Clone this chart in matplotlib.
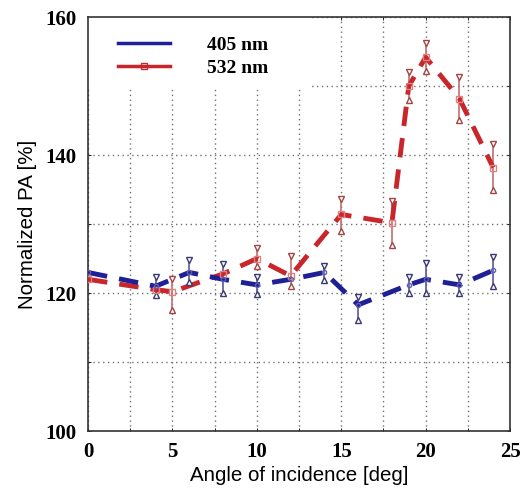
import matplotlib
matplotlib.use("Agg")
import matplotlib.pyplot as plt
from matplotlib.lines import Line2D
from matplotlib.patches import Rectangle
from matplotlib.ticker import MultipleLocator

# ---- data ----
blue_x = [0, 4, 6, 8, 10, 12, 14, 16, 19, 20, 22, 24]
blue_y = [123, 121, 123, 122, 121.2, 122, 123, 118.3, 121.2, 122, 121.2, 123.3]
blue_err_x = [4, 6, 8, 10, 14, 16, 19, 20, 22, 24]
blue_err_lo = [119.8, 121.6, 120.0, 119.9, 121.9, 116.1, 120.0, 120.0, 120.0, 121.0]
blue_err_hi = [122.4, 124.8, 124.2, 122.4, 124.0, 119.5, 122.3, 124.4, 122.3, 125.3]

red_x = [0, 4, 5, 8, 10, 12, 15, 18, 19, 20, 22, 24]
red_y = [122, 120.5, 120.2, 122.8, 125, 122.5, 131.4, 130.2, 150, 154.2, 148.2, 138.2]
red_err_x = [5, 10, 12, 15, 18, 19, 20, 22, 24]
red_err_lo = [117.5, 124.0, 121.0, 129.0, 127.0, 148.0, 152.2, 145.1, 135.0]
red_err_hi = [122.0, 126.5, 125.4, 133.6, 133.3, 152.1, 156.3, 151.3, 141.6]

x_ticks = [0, 5, 10, 15, 20, 25]
y_ticks = [100, 120, 140, 160]
labels = ["405 nm", "532 nm"]

blue = "#1f1f96"
red = "#c8262a"

fig = plt.figure(figsize=(5.21, 4.91), dpi=100)
ax = fig.add_axes([0.169, 0.122, 0.810, 0.843])

# error bars
for xs, lo, hi, lc, mc in [(blue_err_x, blue_err_lo, blue_err_hi, "#5a5a9a", "#3a3a70"),
                           (red_err_x, red_err_lo, red_err_hi, "#c07070", "#a04545")]:
    ax.vlines(xs, lo, hi, colors=lc, lw=1.2, zorder=3)
    ax.plot(xs, hi, ls="none", marker="v", ms=5, mfc="white", mec=mc, mew=1, zorder=4)
    ax.plot(xs, lo, ls="none", marker="^", ms=5, mfc="white", mec=mc, mew=1, zorder=4)

ax.plot(red_x, red_y, color=red, lw=3.5, ls=(0, (4, 2.5)), zorder=3)
ax.plot(blue_x, blue_y, color=blue, lw=3.5, ls=(0, (4, 2.5)), zorder=3)
ax.plot(red_x, red_y, ls="none", marker="s", ms=4, mfc="none", mec="#e08080", mew=1, zorder=4)
ax.plot(blue_x, blue_y, ls="none", marker="o", ms=3, mfc="none", mec="#6060b0", mew=1, zorder=4)

ax.set_xlim(0, 25)
ax.set_ylim(100, 160)
ax.set_xticks(x_ticks)
ax.set_yticks(y_ticks)
ax.xaxis.set_minor_locator(MultipleLocator(2.5))
ax.yaxis.set_minor_locator(MultipleLocator(10))
ax.grid(True, which="both", color="#707070", ls=(0, (1, 2.5)), lw=1.0, zorder=1)
ax.set_axisbelow(True)
ax.tick_params(which="both", direction="in", length=2, top=True, right=True, width=0.6)

for lab in ax.get_xticklabels() + ax.get_yticklabels():
    lab.set_fontfamily("Liberation Serif")
    lab.set_fontweight("bold")
    lab.set_fontsize(15)
ax.tick_params(axis="x", pad=8)
ax.tick_params(axis="y", pad=8)

for s in ax.spines.values():
    s.set_color("#333333")
    s.set_linewidth(1.2)

ax.set_xlabel("Angle of incidence [deg]", fontfamily="Liberation Sans", fontsize=14.8, labelpad=3)
ax.set_ylabel("Normalized PA [%]", fontfamily="Liberation Sans", fontsize=14.8, labelpad=6)

# white box behind the legend (covers gridlines)
ax.add_patch(Rectangle((0, 0.826), 0.53, 0.174, transform=ax.transAxes,
                       facecolor="white", edgecolor="none", zorder=2))

handles = [Line2D([], [], color=blue, lw=2.5),
           Line2D([], [], color=red, lw=2.5, marker="s", ms=4, mfc="none", markevery=[0, -1])]
leg = ax.legend(handles, labels, loc="upper left", bbox_to_anchor=(0.021, 1.005),
                frameon=False,
                prop={"family": "Liberation Serif", "weight": "bold", "size": 14},
                handlelength=2.65, handletextpad=1.9, borderpad=0.9, labelspacing=0.25,
                borderaxespad=0.2)
leg.set_zorder(5)

fig.savefig("out.png", dpi=100)
